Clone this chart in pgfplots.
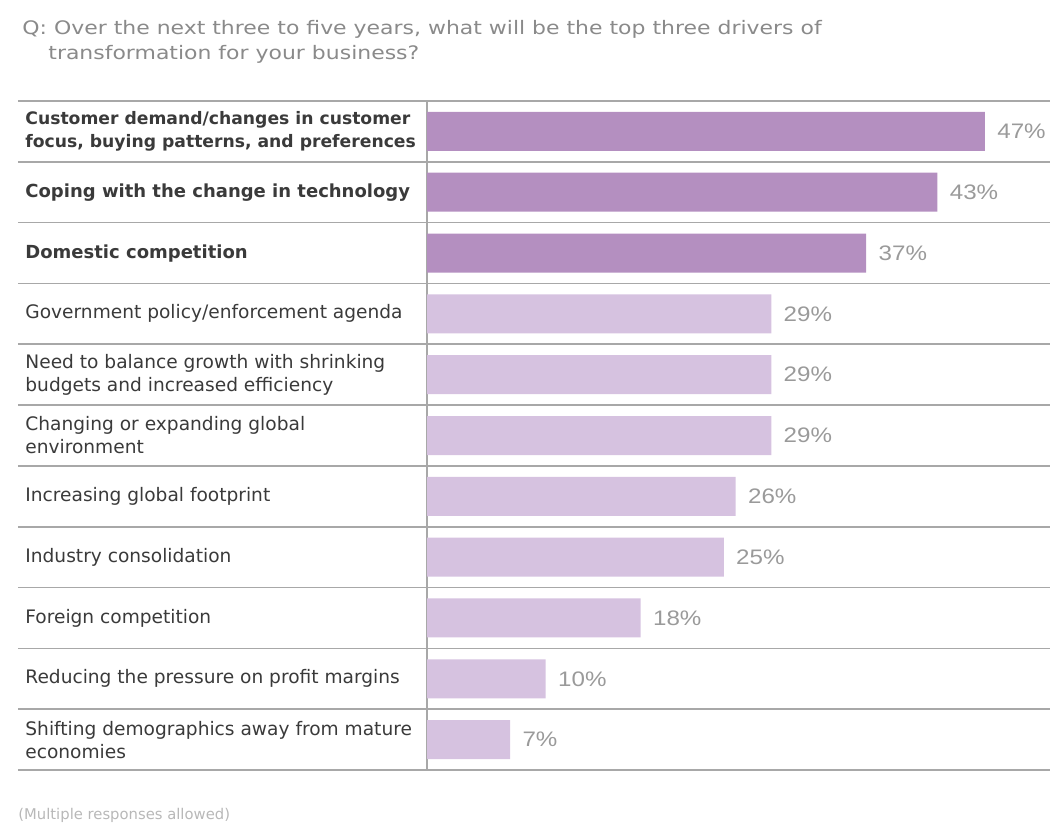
\documentclass[border=0pt]{standalone}
\usepackage{pgfplots}
\pgfplotsset{compat=1.18}
\usepackage{fontspec}
\setmainfont{DejaVu Sans}
\newfontfamily\valfont[FakeStretch=1.15]{Liberation Sans}
\newfontfamily\titlefont[FakeStretch=1.18]{DejaVu Sans}
\definecolor{darkbar}{HTML}{B48FC0}
\definecolor{lightbar}{HTML}{D6C2E0}
\definecolor{rulegray}{HTML}{A8A8A8}
\definecolor{valgray}{HTML}{9A9A9A}
\definecolor{titlegray}{HTML}{8A8A8A}
\definecolor{labelgray}{HTML}{3A3A3A}
\definecolor{notegray}{HTML}{B8B8B8}
\newcommand{\bl}[1]{{\fontsize{9}{11.5}\selectfont\bfseries #1}}
\newcommand{\bls}[1]{{\fontsize{8.6}{11.5}\selectfont\bfseries #1}}
\begin{document}
\begin{tikzpicture}
\path[use as bounding box] (0,0) rectangle (525pt,412.5pt);
\node[anchor=base west, inner sep=0pt, font=\titlefont\fontsize{9.3}{11}\selectfont, text=titlegray] at (11pt,395pt)
  {Q: Over the next three to five years, what will be the top three drivers of};
\node[anchor=base west, inner sep=0pt, font=\titlefont\fontsize{9.3}{11}\selectfont, text=titlegray] at (24pt,382.5pt)
  {transformation for your business?};
\begin{axis}[
  at={(9pt,27.5pt)}, anchor=south west, scale only axis,
  width=516pt, height=334.5pt,
  xbar, bar width=19.5pt, bar shift=0pt,
  xmin=-34.46, xmax=52.48, ymin=-0.5, ymax=10.5, y dir=reverse,
  xtick=\empty,
  ytick={0,...,10},
  yticklabels={
    {\bls{Customer demand/changes in customer}\\\bls{focus, buying patterns, and preferences}},
    {\bl{Coping with the change in technology}},
    {\bl{Domestic competition}},
    {Government policy/enforcement agenda},
    {Need to balance growth with shrinking\\budgets and increased efficiency},
    {Changing or expanding global\\environment},
    {Increasing global footprint},
    {Industry consolidation},
    {Foreign competition},
    {Reducing the pressure on profit margins},
    {Shifting demographics away from mature\\economies}},
  minor ytick={-0.5,0.5,...,10.5},
  yminorgrids,
  minor grid style={rulegray, line width=0.8pt},
  extra x ticks={0}, extra x tick labels={},
  extra x tick style={grid=major, major grid style={rulegray, line width=0.8pt}},
  axis line style={draw=none},
  major tick length=0pt, minor tick length=0pt,
  yticklabel style={anchor=west, align=left, font=\fontsize{9.3}{11.5}\selectfont, text=labelgray, xshift=3.5pt, inner sep=0pt},
  nodes near coords={\pgfmathprintnumber{\pgfplotspointmeta}\%},
  point meta=x,
  /pgf/number format/assume math mode=true,
  nodes near coords style={anchor=west, font=\valfont\fontsize{10.5}{12}\selectfont, text=valgray, xshift=5pt, inner sep=1pt},
  clip=false]
\addplot[draw=none, fill=darkbar] coordinates {(47,0) (43,1) (37,2)};
\addplot[draw=none, fill=lightbar] coordinates {(29,3) (29,4) (29,5) (26,6) (25,7) (18,8) (10,9) (7,10)};
\end{axis}
\node[anchor=west, inner sep=0pt, font=\fontsize{7.4}{8}\selectfont, text=notegray] at (9pt,5pt) {(Multiple responses allowed)};
\end{tikzpicture}
\end{document}
